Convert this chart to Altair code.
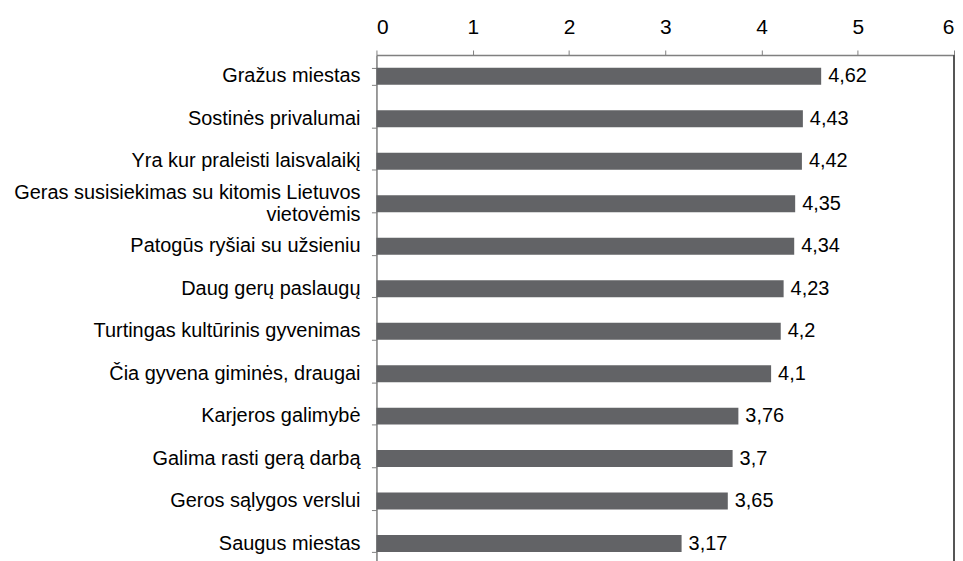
import altair as alt
import pandas as pd

categories = [
    "Gražus miestas",
    "Sostinės privalumai",
    "Yra kur praleisti laisvalaikį",
    "Geras susisiekimas su kitomis Lietuvos|vietovėmis",
    "Patogūs ryšiai su užsieniu",
    "Daug gerų paslaugų",
    "Turtingas kultūrinis gyvenimas",
    "Čia gyvena giminės, draugai",
    "Karjeros galimybė",
    "Galima rasti gerą darbą",
    "Geros sąlygos verslui",
    "Saugus miestas",
]
values = [4.62, 4.43, 4.42, 4.35, 4.34, 4.23, 4.2, 4.1, 3.76, 3.7, 3.65, 3.17]
labels = ["4,62", "4,43", "4,42", "4,35", "4,34", "4,23", "4,2", "4,1", "3,76", "3,7", "3,65", "3,17"]

df = pd.DataFrame({"cat": categories, "val": values, "lab": labels})

FONT = "Liberation Sans"

y_scale = alt.Scale(paddingInner=0.6, paddingOuter=0.3)

y_enc = alt.Y(
    "cat:N",
    sort=categories,
    title=None,
    scale=y_scale,
    axis=alt.Axis(
        labels=False,
        tickBand="extent",
        tickSize=5,
        tickColor="#808080",
        domainColor="#808080",
        domainWidth=1.5,
        minExtent=370,
        maxExtent=370,
    ),
)

x_scale = alt.Scale(domain=[0, 6], nice=False)

bars = alt.Chart(df).mark_bar(color="#626366").encode(
    x=alt.X(
        "val:Q",
        scale=x_scale,
        title=None,
        axis=alt.Axis(
            orient="top",
            values=[0, 1, 2, 3, 4, 5, 6],
            format="d",
            grid=False,
            labelFont=FONT,
            labelFontSize=21,
            labelColor="#000000",
            labelPadding=13,
            tickSize=5,
            tickColor="#808080",
            domainColor="#808080",
            domainWidth=1.5,
            minExtent=46,
            maxExtent=46,
        ),
    ),
    y=y_enc,
)

values_text = alt.Chart(df).mark_text(
    align="left", baseline="middle", dx=7, font=FONT, fontSize=20, color="#000000"
).encode(
    x=alt.X("val:Q", scale=x_scale),
    y=alt.Y("cat:N", sort=categories),
    text="lab:N",
)

cat_single = alt.Chart(df).transform_filter(
    "indexof(datum.cat, '|') < 0"
).mark_text(
    align="right", baseline="middle", font=FONT, fontSize=20, color="#000000"
).encode(
    x=alt.value(-16),
    y=alt.Y("cat:N", sort=categories),
    text="cat:N",
)

cat_multi = alt.Chart(df).transform_filter(
    "indexof(datum.cat, '|') >= 0"
).mark_text(
    align="right", baseline="middle", font=FONT, fontSize=20, color="#000000",
    lineBreak="|", lineHeight=22, dy=-11,
).encode(
    x=alt.value(-16),
    y=alt.Y("cat:N", sort=categories),
    text="cat:N",
)

border = alt.Chart(pd.DataFrame({"x": [6]})).mark_rule(color="#555555", strokeWidth=2).encode(
    x=alt.X("x:Q", scale=x_scale)
)

chart = (
    alt.layer(bars, values_text, cat_single, cat_multi, border)
    .properties(width=580, height=512, padding=0)
    .configure_view(stroke=None)
    .configure(background="white")
)

chart.save("out.html", embed_options={"renderer": "svg", "actions": False})
